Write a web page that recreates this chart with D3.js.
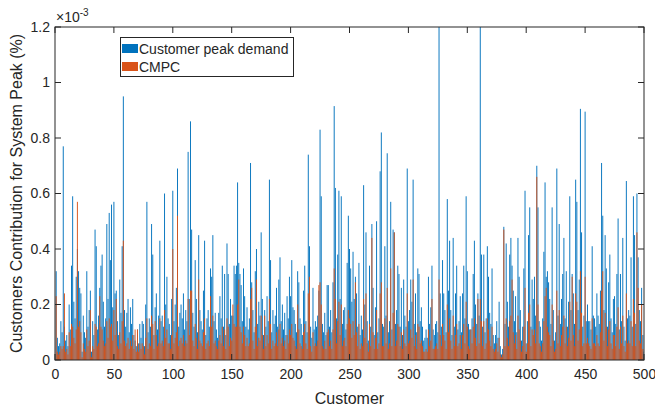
<!DOCTYPE html>
<html><head><meta charset="utf-8">
<script src="https://cdn.jsdelivr.net/npm/d3@7/dist/d3.min.js"></script>
<style>body{margin:0;background:#fff}svg{display:block}text{font-family:"Liberation Sans",Arial,sans-serif;fill:#262626}</style>
</head><body><svg id="c" width="655" height="409"></svg>
<script>
// values in units of 1e-3 (%)
const peakDemand = [
.32,.08,.05,.06,.14,.10,.77,.12,.07,.09,
.05,.20,.11,.34,.59,.21,.15,.30,.40,.32,
.26,.24,.03,.16,.10,.08,.32,.12,.18,.25,
.03,.14,.09,.47,.41,.11,.16,.26,.34,.38,
.21,.12,.15,.49,.22,.53,.36,.56,.19,.57,
.24,.25,.14,.09,.29,.17,.41,.95,.18,.12,
.17,.22,.10,.19,.13,.22,.09,.07,.05,.11,
.06,.13,.08,.14,.13,.05,.20,.57,.10,.15,
.12,.49,.38,.09,.19,.24,.11,.16,.43,.14,
.16,.12,.60,.20,.30,.15,.13,.09,.22,.61,
.14,.20,.26,.69,.12,.17,.20,.15,.24,.11,
.18,.14,.75,.22,.86,.47,.17,.12,.36,.22,
.10,.45,.18,.14,.11,.25,.43,.09,.15,.18,
.12,.33,.30,.45,.14,.17,.11,.08,.17,.23,
.15,.34,.12,.31,.09,.42,.31,.13,.22,.16,
.16,.34,.31,.34,.64,.35,.31,.27,.14,.33,
.23,.12,.19,.11,.15,.71,.28,.18,.10,.32,
.40,.13,.21,.16,.46,.22,.09,.18,.12,.23,
.14,.65,.36,.10,.18,.13,.16,.26,.12,.29,
.37,.14,.20,.11,.17,.09,.23,.15,.30,.23,
.36,.19,.18,.13,.10,.32,.28,.15,.13,.09,
.25,.34,.14,.10,.74,.41,.12,.08,.26,.11,
.14,.12,.16,.25,.83,.59,.13,.10,.17,.09,
.27,.27,.12,.18,.10,.28,.915,.62,.15,.38,
.61,.22,.59,.13,.18,.19,.11,.35,.52,.40,
.33,.21,.39,.22,.30,.24,.12,.35,.09,.16,
.11,.63,.20,.46,.14,.07,.34,.12,.49,.26,
.09,.19,.50,.10,.15,.68,.82,.13,.12,.41,
.16,.745,.10,.14,.57,.11,.47,.46,.13,.18,
.34,.31,.12,.26,.09,.29,.16,.12,.69,.14,
.18,.29,.21,.65,.13,.24,.10,.33,.31,.14,
.19,.12,.07,.08,.11,.08,.30,.13,.19,.34,
.11,.09,.13,.14,.10,1.25,.24,.12,.36,.24,
.18,.10,.58,.25,.43,.18,.09,.44,.12,.24,
.34,.11,.14,.23,.10,.24,.34,.15,.59,.32,
.13,.11,.11,.15,.31,.43,.20,.13,.24,.16,
1.25,.38,.12,.38,.10,.15,.41,.30,.17,.13,
.33,.09,.06,.09,.14,.08,.21,.05,.02,.04,
.48,.13,.42,.21,.12,.38,.44,.34,.25,.14,
.23,.10,.44,.30,.18,.07,.12,.33,.61,.06,
.14,.45,.55,.12,.29,.22,.30,.16,.70,.55,
.14,.12,.07,.15,.39,.64,.30,.32,.28,.22,
.13,.55,.18,.07,.10,.69,.16,.49,.13,.22,
.31,.44,.15,.32,.12,.21,.59,.18,.31,.24,
.13,.65,.57,.18,.29,.905,.46,.12,.16,.895,
.14,.20,.14,.14,.11,.41,.16,.15,.12,.24,
.16,.13,.25,.71,.52,.18,.45,.33,.12,.28,
.38,.15,.10,.22,.23,.13,.31,.51,.11,.31,
.14,.44,.12,.07,.645,.15,.18,.16,.37,.12,
.59,.45,.13,.60,.37,.18,.14,.26,.09,.03];
const cmpc = [
.23,.03,.02,.03,.05,.04,.05,.24,.03,.04,
.02,.10,.05,.13,.12,.08,.06,.11,.57,.12,
.14,.10,.01,.06,.04,.03,.11,.05,.07,.18,
.01,.05,.04,.13,.12,.05,.06,.23,.12,.11,
.07,.05,.06,.14,.08,.15,.12,.13,.07,.18,
.09,.22,.05,.04,.10,.06,.14,.43,.07,.05,
.06,.08,.04,.07,.05,.09,.04,.11,.03,.11,
.03,.06,.04,.06,.05,.02,.08,.15,.04,.06,
.05,.16,.13,.04,.14,.09,.05,.06,.15,.06,
.07,.05,.18,.08,.11,.06,.06,.04,.09,.40,
.06,.08,.10,.52,.05,.07,.08,.06,.09,.05,
.07,.06,.22,.09,.25,.25,.07,.05,.13,.08,
.04,.29,.07,.06,.05,.10,.15,.04,.06,.07,
.05,.23,.12,.16,.06,.07,.05,.04,.07,.09,
.06,.12,.05,.11,.04,.15,.12,.05,.08,.07,
.20,.13,.12,.12,.20,.29,.12,.10,.06,.12,
.09,.05,.08,.05,.06,.22,.26,.07,.04,.12,
.29,.05,.08,.07,.16,.09,.04,.16,.05,.09,
.06,.22,.13,.04,.07,.05,.06,.10,.05,.11,
.13,.06,.08,.05,.07,.04,.09,.06,.11,.09,
.13,.08,.07,.05,.04,.20,.11,.06,.05,.04,
.10,.13,.06,.04,.24,.30,.05,.03,.10,.05,
.06,.05,.07,.27,.28,.20,.05,.04,.07,.04,
.10,.11,.05,.07,.04,.11,.33,.22,.06,.14,
.21,.09,.20,.05,.07,.08,.05,.13,.18,.15,
.13,.08,.14,.09,.28,.10,.05,.13,.04,.06,
.05,.22,.08,.24,.06,.03,.13,.05,.44,.10,
.04,.08,.18,.04,.06,.24,.28,.05,.05,.15,
.06,.26,.04,.06,.33,.05,.17,.46,.05,.07,
.13,.12,.05,.10,.04,.11,.06,.05,.24,.06,
.07,.11,.08,.29,.05,.09,.04,.13,.12,.06,
.07,.05,.03,.03,.04,.03,.11,.05,.07,.22,
.04,.04,.05,.06,.04,.29,.09,.05,.13,.09,
.07,.04,.20,.10,.15,.07,.04,.16,.05,.09,
.13,.05,.06,.09,.04,.09,.13,.06,.21,.12,
.05,.04,.11,.06,.12,.15,.08,.05,.22,.06,
.22,.14,.05,.14,.04,.06,.15,.11,.07,.05,
.12,.04,.03,.04,.06,.03,.08,.02,.01,.02,
.47,.05,.15,.08,.05,.14,.16,.29,.10,.06,
.09,.04,.16,.11,.07,.03,.05,.12,.26,.03,
.06,.17,.20,.05,.11,.09,.11,.06,.66,.20,
.06,.05,.03,.06,.14,.23,.26,.12,.10,.09,
.05,.20,.07,.03,.04,.25,.06,.18,.05,.09,
.12,.16,.06,.12,.05,.08,.21,.07,.30,.09,
.05,.24,.21,.07,.11,.32,.17,.05,.06,.30,
.06,.08,.06,.05,.04,.15,.06,.06,.05,.09,
.06,.05,.10,.25,.32,.07,.17,.12,.05,.11,
.14,.06,.04,.09,.09,.05,.12,.19,.04,.12,
.06,.16,.05,.03,.24,.06,.07,.06,.14,.05,
.22,.17,.05,.46,.26,.07,.06,.20,.04,.01];
const customers = d3.range(1, peakDemand.length + 1);
const xTicks = [0,50,100,150,200,250,300,350,400,450,500];
const yTicks = [0,0.2,0.4,0.6,0.8,1,1.2];
const yTickLabels = ["0","0.2","0.4","0.6","0.8","1","1.2"];
const seriesNames = ["Customer peak demand","CMPC"];
const colors = ["#0072BD","#D95319"];

const svg = d3.select("#c");
const L=55,R=644,T=27,B=360;
const x = d3.scaleLinear().domain([0,500]).range([L,R]);
const y = d3.scaleLinear().domain([0,1.2]).range([B,T]);
const bw = 0.8*(x(1)-x(0));

svg.append("defs").append("clipPath").attr("id","clip")
  .append("rect").attr("x",L).attr("y",T).attr("width",R-L).attr("height",B-T);
const g = svg.append("g").attr("clip-path","url(#clip)");
[peakDemand, cmpc].forEach((arr,k)=>{
  g.append("g").selectAll("rect").data(customers).join("rect")
    .attr("x",d=>x(d)-bw/2).attr("width",bw)
    .attr("y",d=>y(arr[d-1])).attr("height",d=>B-y(arr[d-1]))
    .attr("fill",colors[k]);
});

const ac="#262626";
const fmt = d=>yTickLabels[yTicks.indexOf(d)];
const axB = svg.append("g").attr("transform",`translate(0,${B})`)
  .call(d3.axisBottom(x).tickValues(xTicks).tickSize(0).tickPadding(9));
const axL = svg.append("g").attr("transform",`translate(${L},0)`)
  .call(d3.axisLeft(y).tickValues(yTicks).tickFormat(fmt).tickSize(0).tickPadding(5));
[axB,axL].forEach(a=>{a.select(".domain").remove();a.selectAll("text").style("font-size","14px").attr("fill","#262626").style("font-family","'Liberation Sans',Arial,sans-serif");});
// box & inward ticks
svg.append("rect").attr("x",L).attr("y",T).attr("width",R-L).attr("height",B-T)
  .attr("fill","none").attr("stroke",ac).attr("stroke-width",1);
const tk = svg.append("g").attr("stroke",ac).attr("stroke-width",1);
xTicks.forEach(v=>{
  tk.append("line").attr("x1",x(v)).attr("x2",x(v)).attr("y1",B).attr("y2",B-6);
  tk.append("line").attr("x1",x(v)).attr("x2",x(v)).attr("y1",T).attr("y2",T+6);
});
yTicks.forEach(v=>{
  tk.append("line").attr("x1",L).attr("x2",L+6).attr("y1",y(v)).attr("y2",y(v));
  tk.append("line").attr("x1",R).attr("x2",R-6).attr("y1",y(v)).attr("y2",y(v));
});
// exponent
const ex = svg.append("text").attr("x",56).attr("y",22).style("font-size","14px");
ex.append("tspan").text("×10");
ex.append("tspan").attr("dy",-6).style("font-size","10px").text("-3");
// axis labels
svg.append("text").attr("x",(L+R)/2).attr("y",404).attr("text-anchor","middle")
  .style("font-size","16px").text("Customer");
svg.append("text").attr("transform",`translate(22,${(T+B)/2}) rotate(-90)`)
  .attr("text-anchor","middle").style("font-size","16px")
  .text("Customers Contribution for System Peak (%)");
// legend
const lg = svg.append("g");
lg.append("rect").attr("x",120.5).attr("y",37.5).attr("width",173).attr("height",39)
  .attr("fill","#fff").attr("stroke",ac).attr("stroke-width",1);
seriesNames.forEach((n,i)=>{
  lg.append("rect").attr("x",122).attr("y",44+i*18).attr("width",16).attr("height",9).attr("fill",colors[i]);
  lg.append("text").attr("x",139).attr("y",53.5+i*18).style("font-size","14px").attr("fill","#000").text(n);
});
</script></body></html>
